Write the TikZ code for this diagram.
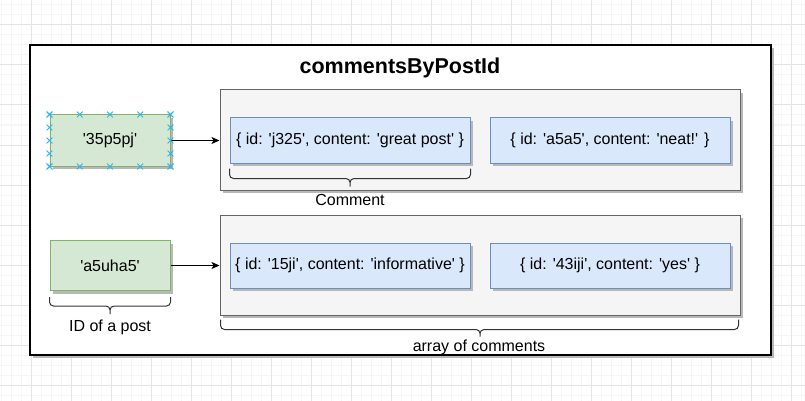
\documentclass[tikz,border=0pt]{standalone}
\usepackage{fontspec}
\setmainfont{Liberation Sans}[Ligatures=TeXOff]
\usepackage{xcolor}
\usepackage{tikz}
\usetikzlibrary{arrows.meta, calc, shadows, shapes.misc}

\definecolor{keyfill}{HTML}{D5E8D4}
\definecolor{keyline}{HTML}{82B366}
\definecolor{itemfill}{HTML}{DAE8FC}
\definecolor{itemline}{HTML}{6C8EBF}
\definecolor{holderfill}{HTML}{F5F5F5}
\definecolor{holderline}{HTML}{666666}
\definecolor{handleblue}{HTML}{29B6F2}
\definecolor{gridminor}{HTML}{F6F6F6}
\definecolor{gridmajor}{HTML}{E4E4E4}

\begin{document}
\begin{tikzpicture}[x=1pt, y=-1pt,
    every node/.style={font=\fontsize{16}{19}\selectfont},
    boxshadow/.style={drop shadow={shadow xshift=3pt, shadow yshift=-3pt, fill=black!28, opacity=1}},
    frame/.style={draw=black, line width=1.6pt, fill=white, boxshadow, minimum width=741pt, minimum height=310pt},
    holder/.style={draw=holderline, line width=1pt, fill=holderfill, boxshadow, minimum width=520pt, minimum height=100pt},
    keybox/.style={draw=keyline, line width=1pt, fill=keyfill, boxshadow, minimum width=120pt, minimum height=50pt},
    itembox/.style={draw=itemline, line width=1pt, fill=itemfill, boxshadow, minimum width=240pt, minimum height=45pt},
    curly/.style={draw=black!80, line width=1pt, rounded corners=4pt},
    handle/.style={cross out, draw=handleblue, line width=0.8pt, minimum size=5pt, inner sep=0pt},
    link/.style={-{Stealth[length=8pt, width=7pt, inset=2pt]}, line width=1pt},
  ]
  \useasboundingbox (0,0) rectangle (805,401);
  % Background grid
  \fill[white] (0,0) rectangle (805,401);
  \foreach \gx in {1,11,...,801} \draw[gridminor, line width=1pt] (\gx,0) -- (\gx,401);
  \foreach \gy in {5,15,...,395} \draw[gridminor, line width=1pt] (0,\gy) -- (805,\gy);
  \foreach \gx in {31,71,...,791} \draw[gridmajor, line width=1pt] (\gx,0) -- (\gx,401);
  \foreach \gy in {25,65,...,385} \draw[gridmajor, line width=1pt] (0,\gy) -- (805,\gy);

  % Outer frame and title
  \node[frame] (map) at (400.5,200) {};
  \node[font=\bfseries\fontsize{21.5}{25}\selectfont, anchor=base] (title) at (400,73.7) {commentsByPostId};

  % Arrays of comments
  \node[holder] (h1) at (480,140) {};
  \node[holder] (h2) at (480,265) {};
  \node[itembox] (c11) at (350,140.5) {\{ id: 'j325', content: 'great post' \}};
  \node[itembox] (c12) at (610,140.5) {\{ id: 'a5a5', content: 'neat!' \}};
  \node[itembox] (c21) at (350,265.5) {\{ id: '15ji', content: 'informative' \}};
  \node[itembox] (c22) at (610,265.5) {\{ id: '43iji', content: 'yes' \}};

  % Post ids
  \node[keybox, minimum height=51pt] (k1) at (110,140.5) {'35p5pj'};
  \node[keybox] (k2) at (110,265.5) {'a5uha5'};
  \draw[link] (k1.east) -- (k1.east -| h1.west);
  \draw[link] (k2.east) -- (k2.east -| h2.west);

  % Braces
  \draw[curly] ($(c11.south west)+(0,5)$) |- ($(c11.south)+(0,15)$) -- ($(c11.south)+(0,23)$)
               ($(c11.south east)+(0,5)$) |- ($(c11.south)+(0,15)$) -- ($(c11.south)+(0,23)$);
  \draw[curly] ($(k2.south west)+(0,6)$) |- ($(k2.south)+(0,15)$) -- ($(k2.south)+(0,23)$)
               ($(k2.south east)+(0,6)$) |- ($(k2.south)+(0,15)$) -- ($(k2.south)+(0,23)$);
  \draw[curly] ($(h2.south west)+(1,4)$) |- ($(h2.south)+(0,14)$) -- ($(h2.south)+(0,21)$)
               ($(h2.south east)+(-2,4)$) |- ($(h2.south)+(0,14)$) -- ($(h2.south)+(0,21)$);
  \node[anchor=base] (lcomment) at (350,205.7) {Comment};
  \node[anchor=base] (lid) at (110,331) {ID of a post};
  \node[anchor=base] (larray) at (479,351.7) {array of comments};

  % Selection handles
  \foreach \f in {0,0.25,0.5,0.75,1} {
    \foreach \p/\q in {north west/north east, south west/south east, north west/south west, north east/south east}
      \node[handle] at ($(k1.\p)!\f!(k1.\q)$) {};
  }
\end{tikzpicture}
\end{document}
